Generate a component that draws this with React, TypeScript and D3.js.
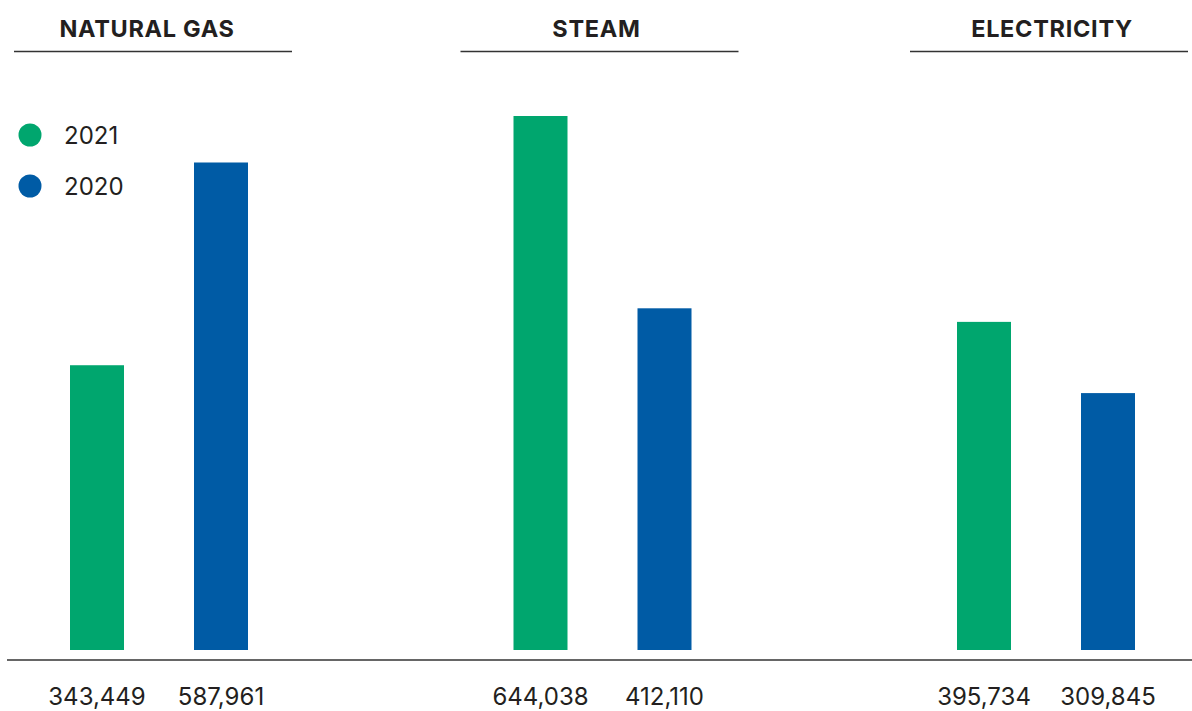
import React, { useEffect, useRef } from "react";
import * as d3 from "d3";

// Energy use by source, two reporting years
const categories = ["NATURAL GAS", "STEAM", "ELECTRICITY"];
const years = ["2021", "2020"];
const values2021 = [343449, 644038, 395734];
const values2020 = [587961, 412110, 309845];

const WIDTH = 1192;
const HEIGHT = 711;
const GREEN = "#00a66e";
const BLUE = "#005ba5";
const INK = "#231f20";
// horizontal nudge of each panel header relative to its bar pair
const HEADER_SHIFT = [-12, -6, 6];

export default function App() {
  const ref = useRef<SVGSVGElement | null>(null);

  useEffect(() => {
    document.body.style.margin = "0";
    const svg = d3.select(ref.current);
    svg.selectAll("*").remove();

    const baseline = 650;
    const axisY = 660;

    const x = d3.scalePoint<string>().domain(categories).range([159, 1046]);
    const inner = d3
      .scaleBand<string>()
      .domain(years)
      .range([-89, 89])
      .paddingInner(0.5645)
      .paddingOuter(0);
    const y = d3
      .scaleLinear()
      .domain([0, d3.max([...values2021, ...values2020]) as number])
      .range([baseline, 116]);
    const color = d3.scaleOrdinal<string, string>().domain(years).range([GREEN, BLUE]);
    const fmt = d3.format(",");

    const rows = categories.map((c, i) => ({
      category: c,
      shift: HEADER_SHIFT[i],
      bars: [
        { year: years[0], value: values2021[i] },
        { year: years[1], value: values2020[i] },
      ],
    }));

    // panel headers with rule underneath
    const head = svg
      .selectAll("g.head")
      .data(rows)
      .join("g")
      .attr("class", "head")
      .attr("transform", (d) => `translate(${x(d.category)},0)`);
    head
      .append("text")
      .attr("x", (d) => d.shift)
      .attr("y", 37)
      .attr("text-anchor", "middle")
      .attr("font-family", "Inter, sans-serif")
      .attr("font-weight", 700)
      .attr("font-size", 23.5)
      .attr("letter-spacing", 0.7)
      .attr("fill", INK)
      .text((d) => d.category);
    head
      .append("line")
      .attr("x1", (d) => d.shift / 2 - 139)
      .attr("x2", (d) => d.shift / 2 + 139)
      .attr("y1", 51.5)
      .attr("y2", 51.5)
      .attr("stroke", "#333")
      .attr("stroke-width", 1.3);

    // bars and value labels
    const group = svg
      .selectAll("g.group")
      .data(rows)
      .join("g")
      .attr("class", "group")
      .attr("transform", (d) => `translate(${x(d.category)},0)`);
    group
      .selectAll("rect")
      .data((d) => d.bars)
      .join("rect")
      .attr("x", (d) => inner(d.year) as number)
      .attr("width", inner.bandwidth())
      .attr("y", (d) => y(d.value))
      .attr("height", (d) => baseline - y(d.value))
      .attr("fill", (d) => color(d.year));
    group
      .selectAll("text.val")
      .data((d) => d.bars)
      .join("text")
      .attr("class", "val")
      .attr("x", (d) => (inner(d.year) as number) + inner.bandwidth() / 2)
      .attr("y", 705)
      .attr("text-anchor", "middle")
      .attr("font-family", "Inter, sans-serif")
      .attr("font-weight", 400)
      .attr("font-size", 24)
      .attr("fill", INK)
      .text((d) => fmt(d.value));

    // horizontal base rule
    svg
      .append("line")
      .attr("x1", 7)
      .attr("x2", WIDTH)
      .attr("y1", axisY)
      .attr("y2", axisY)
      .attr("stroke", "#333")
      .attr("stroke-width", 1.3);

    // legend
    const legend = svg
      .selectAll("g.legend")
      .data(years)
      .join("g")
      .attr("class", "legend")
      .attr("transform", (_d, i) => `translate(30,${135 + i * 51})`);
    legend.append("circle").attr("r", 11.5).attr("fill", (d) => color(d));
    legend
      .append("text")
      .attr("x", 34)
      .attr("y", 9)
      .attr("font-family", "Inter, sans-serif")
      .attr("font-weight", 400)
      .attr("font-size", 24)
      .attr("fill", INK)
      .text((d) => d);
  }, []);

  return (
    <svg
      ref={ref}
      width={WIDTH}
      height={HEIGHT}
      style={{ position: "absolute", left: 0, top: 0, background: "#fff" }}
    />
  );
}
